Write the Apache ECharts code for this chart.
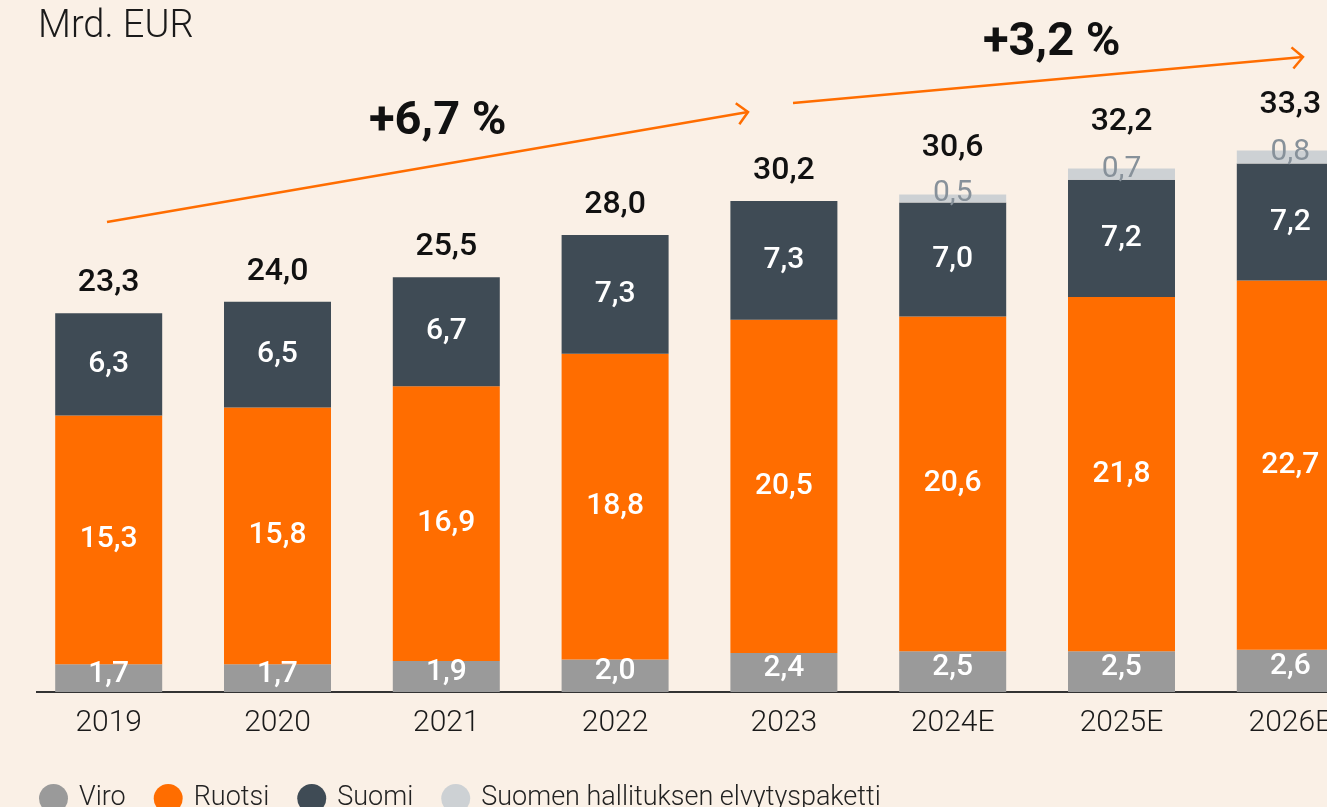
<!DOCTYPE html>
<html>
<head>
<meta charset="utf-8">
<script src="https://cdn.jsdelivr.net/npm/echarts@6/dist/echarts.min.js"></script>
<style>
html,body{margin:0;padding:0;background:#faf0e6;}
#chart{width:1327px;height:807px;}
</style>
</head>
<body>
<div id="chart"></div>
<script>
// kategoriat
var years = ['2019','2020','2021','2022','2023','2024E','2025E','2026E'];
// sarjat, Mrd. EUR
var viro = [1.7, 1.7, 1.9, 2.0, 2.4, 2.5, 2.5, 2.6];
var ruotsi = [15.3, 15.8, 16.9, 18.8, 20.5, 20.6, 21.8, 22.7];
var suomi = [6.3, 6.5, 6.7, 7.3, 7.3, 7.0, 7.2, 7.2];
var elvytys = [null, null, null, null, null, 0.5, 0.7, 0.8];
var totals = [23.3, 24.0, 25.5, 28.0, 30.2, 30.6, 32.2, 33.3];
// kasvuprosentit
var growthTexts = ['+6,7 %', '+3,2 %'];

function fmt(v){
	return v.toFixed(1).replace('.', ',');
}
// yhdistä oliot
function extend(){
	var o = {};
	for (var i = 0; i < arguments.length; i++){
		for (var k in arguments[i]) o[k] = arguments[i][k];
	}
	return o;
}

var segLabel = {
	show:true,
	position:'inside',
	color:'#ffffff',
	fontFamily:'Roboto',
	fontSize:30,
	fontWeight:500,
	formatter:function(p){ return p.value == null ? '' : fmt(p.value); }
};

// summarivin data: nollakorkuiset palkit, joiden päällä summa
var totalData = [];
for (var i = 0; i < totals.length; i++){
	totalData.push({
		value:0,
		label:{distance: elvytys[i] == null ? 14 : 30}
	});
}

var chart = echarts.init(document.getElementById('chart'));

var option = {
	backgroundColor:'#faf0e6',
	animation:false,
	title:{
		text:'Mrd. EUR',
		left:33,
		top:3,
		textStyle:{fontFamily:'Roboto', fontSize:38, fontWeight:300, color:'#1a1a1a'}
	},
	legend:{
		data:['Viro','Ruotsi','Suomi','Suomen hallituksen elvytyspaketti'],
		left:34,
		top:779,
		icon:'circle',
		itemWidth:29,
		itemHeight:29,
		itemGap:28,
		textStyle:{fontFamily:'Roboto', fontSize:27, fontWeight:300, color:'#222', padding:[0,0,0,6]}
	},
	// kaavio jatkuu oikean reunan yli
	grid:{left:24.3, width:1350.4, top:41.6, bottom:115, outerBoundsMode:'none', containLabel:false},
	xAxis:{
		type:'category',
		data:years,
		axisLine:{show:false},
		axisTick:{show:false},
		axisLabel:{fontFamily:'Roboto', fontSize:30, fontWeight:300, color:'#1a1a1a', margin:16}
	},
	yAxis:{
		type:'value',
		min:0,
		max:40,
		show:false
	},
	series:[
		{
			name:'Viro', type:'bar', stack:'a', barWidth:107,
			itemStyle:{color:'#9a9a9a'},
			label:extend(segLabel, {offset:[0,-4]}),
			data:viro
		},
		{
			name:'Ruotsi', type:'bar', stack:'a',
			itemStyle:{color:'#ff6d00'},
			label:segLabel,
			data:ruotsi
		},
		{
			name:'Suomi', type:'bar', stack:'a',
			itemStyle:{color:'#3f4b55'},
			label:segLabel,
			data:suomi
		},
		{
			name:'Suomen hallituksen elvytyspaketti', type:'bar', stack:'a',
			itemStyle:{color:'#cdd1d4'},
			label:extend(segLabel, {color:'#87919a', fontWeight:400, offset:[0,-5]}),
			data:elvytys
		},
		{
			name:'Yhteensä', type:'bar', stack:'a',
			itemStyle:{color:'transparent'},
			label:{
				show:true,
				position:'top',
				color:'#111',
				fontFamily:'Roboto',
				fontSize:32,
				fontWeight:500,
				formatter:function(p){ return fmt(totals[p.dataIndex]); }
			},
			data:totalData
		}
	]
};
chart.setOption(option);

// nuoli: viiva + avoin kärki
function arrow(x1, y1, x2, y2){
	var a = Math.atan2(y2 - y1, x2 - x1), L = 15, s = Math.PI / 4;
	var st = {stroke:'#ff6d00', lineWidth:2.5, fill:null};
	return [
		{type:'line', shape:{x1:x1, y1:y1, x2:x2, y2:y2}, style:st, silent:true},
		{type:'polyline', shape:{points:[
			[x2 - L * Math.cos(a - s), y2 - L * Math.sin(a - s)],
			[x2, y2],
			[x2 - L * Math.cos(a + s), y2 - L * Math.sin(a + s)]
		]}, style:st, silent:true}
	];
}

var y0 = chart.convertToPixel({yAxisIndex:0}, 0);
var g = [];
// x-akselin viiva
g.push({type:'line', shape:{x1:36, y1:y0, x2:1327, y2:y0}, style:{stroke:'#333', lineWidth:2}, silent:true});
g = g.concat(arrow(107, 222, 748, 112));
g = g.concat(arrow(793, 103, 1303, 57));
g.push({type:'text', left:369, top:99, silent:true,
	style:{text:growthTexts[0], fontFamily:'Roboto', fontSize:47, fontWeight:'bold', fill:'#111'}});
g.push({type:'text', left:983, top:20, silent:true,
	style:{text:growthTexts[1], fontFamily:'Roboto', fontSize:47, fontWeight:'bold', fill:'#111'}});
chart.setOption({graphic:g});
</script>
</body>
</html>
